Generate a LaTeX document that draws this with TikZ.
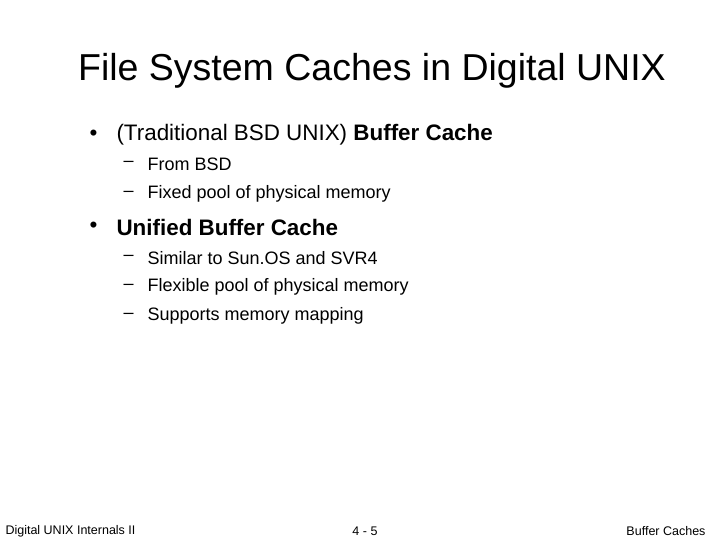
\documentclass[tikz,border=0pt]{standalone}
\usepackage{fontspec}
\setmainfont{Liberation Sans}
\begin{document}
\begin{tikzpicture}[x=1pt,y=-1pt,
 title/.style={font=\fontsize{37.5}{40}\selectfont},
 bul/.style={anchor=west,font=\fontsize{22.4}{26}\selectfont},
 sub/.style={anchor=west,font=\fontsize{18}{21}\selectfont},
 foot/.style={font=\fontsize{12.5}{14}\selectfont}]
\useasboundingbox[fill=white] (0,0) rectangle (720,540);
\node[title] (t) at (372,71) {File System Caches in Digital UNIX};
\node[bul] (b1d) at (86,135) {•};
\node[bul] (b1) at (113,135) {(Traditional BSD UNIX) \textbf{Buffer Cache}};
\node[sub] (s1d) at (120,164) {–};
\node[sub] (s1) at (144,164) {From BSD};
\node[sub] (s2d) at (120,194) {–};
\node[sub] (s2) at (144,194) {Fixed pool of physical memory};
\node[bul] (b2d) at (86,227) {•};
\node[bul] (b2) at (113,227) {\textbf{Unified Buffer Cache}};
\node[sub] (s3d) at (120,258) {–};
\node[sub] (s3) at (144,258) {Similar to Sun.OS and SVR4};
\node[sub] (s4d) at (120,287) {–};
\node[sub] (s4) at (144,287) {Flexible pool of physical memory};
\node[sub] (s5d) at (120,316) {–};
\node[sub] (s5) at (144,316) {Supports memory mapping};
\node[foot,anchor=west] (f1) at (2,531) {Digital UNIX Internals II};
\node[foot] (f2) at (365,531) {4 - 5};
\node[foot,anchor=east] (f3) at (709,531) {Buffer Caches};
\end{tikzpicture}
\end{document}
